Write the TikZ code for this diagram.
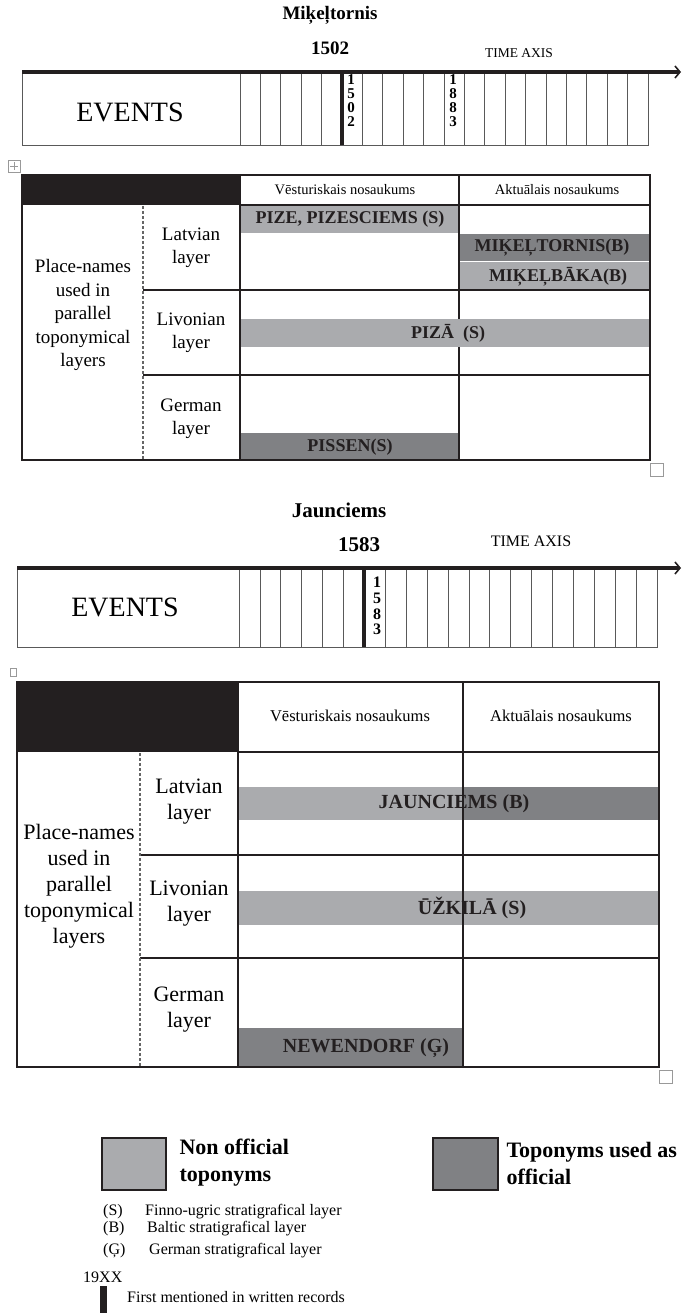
\documentclass[tikz,border=0pt]{standalone}
\usepackage{fontspec}
\setmainfont{Liberation Serif}
\usetikzlibrary{positioning,calc,arrows.meta}
\definecolor{lightbar}{RGB}{170,171,174}
\definecolor{darkbar}{RGB}{128,129,132}
\definecolor{ink}{RGB}{35,31,32}
\newcommand{\fsz}[2]{\fontsize{#1}{#2}\selectfont}

\begin{document}
\begin{tikzpicture}[x=1pt, y=-1pt,
  ttl/.style = {font=\fsz{19}{22}\bfseries},
  yr/.style = {font=\fsz{19}{22}\bfseries},
  axl/.style = {font=\fsz{13.5}{15}},
  ev/.style = {font=\fsz{28}{32}},
  dig/.style = {font=\fsz{15}{14}\bfseries, align=center, inner sep=0pt},
  cell/.style = {draw=black!65, line width=0.8pt},
  grid/.style = {draw=ink, line width=2pt},
  sep/.style = {draw=black!60, line width=1.2pt, dash pattern=on 3pt off 2pt},
  axis/.style = {draw=ink, line width=3.5pt, -{Straight Barb[length=5pt,width=12pt,line width=1.6pt]}},
  hd/.style = {font=\fsz{14.5}{17}},
  lay/.style = {font=\fsz{19}{23.5}, align=center},
  nm/.style = {font=\fsz{18}{21}\bfseries, text=ink},
  handle/.style = {draw=black!40, line width=0.6pt},
  leg/.style = {font=\fsz{22}{27}\bfseries, align=left, anchor=west},
  note/.style = {font=\fsz{16}{18}, anchor=west, inner sep=0pt}
  ]
\useasboundingbox (0,0) rectangle (682,1313);

% ---------- Mikeltornis
\node[ttl] (t1) at (330,15) {Miķeļtornis};
\node[yr] (y1) at (330,48) {1502};
\node[axl] (ax1) at (519,53) {TIME AXIS};
\draw[cell] (22,72) rectangle (648,145);
\foreach \i in {0,...,19} \draw[cell] ({240+20.4*\i},72) -- ++(0,73);
\draw[ink, line width=3.5pt] (342,72) -- (342,145);
\node[ev] (ev1) at (130,112) {EVENTS};
\node[dig] (d1) at (351,101) {1\\5\\0\\2};
\node[dig] (d2) at (453,101) {1\\8\\8\\3};
\coordinate (a1s) at (22,72);
\coordinate (a1e) at (681,72);
\draw[axis] (a1s) -- (a1e);

\draw[handle] (8,160) rectangle (20,172);
\draw[handle] (14,162) -- (14,170) (10,166) -- (18,166);

\fill[lightbar] (240,205) rectangle (459,233);
\fill[darkbar] (459,234) rectangle (650,261);
\fill[lightbar] (459,262) rectangle (650,290);
\fill[darkbar] (240,433) rectangle (459,460);
\fill[ink] (22,175) rectangle (240,205);
\draw[grid] (22,175) rectangle (650,460);
\draw[grid] (240,175) -- (240,460) (459,175) -- (459,460);
\draw[grid] (240,205) -- (650,205);
\draw[grid] (143,290) -- (650,290) (143,375) -- (650,375);
\draw[sep] (143,206) -- (143,459);
\fill[lightbar] (241,319) rectangle (649,347);
\draw[handle] (650,463) rectangle (663,476);

\node[hd] (h1) at (345,190) {Vēsturiskais nosaukums};
\node[hd] (h2) at (557,190) {Aktuālais nosaukums};
\node[lay] (p1) at (83,315) {Place-names\\used in\\parallel\\toponymical\\layers};
\node[lay] (la1) at (191,248) {Latvian\\layer};
\node[lay] (li1) at (191,333) {Livonian\\layer};
\node[lay] (ge1) at (191,419) {German\\layer};
\node[nm] (n1) at (350,219) {PIZE, PIZESCIEMS (S)};
\node[nm] (n2) at (552,248) {MIĶEĻTORNIS(B)};
\node[nm] (n3) at (558,277) {MIĶEĻBĀKA(B)};
\node[nm] (n4) at (448,333) {PIZĀ\ \ (S)};
\node[nm] (n5) at (350,447) {PISSEN(S)};

% ---------- Jaunciems
\node[ttl, font=\fsz{21}{24}\bfseries] (t2) at (339,510) {Jaunciems};
\node[yr, font=\fsz{21}{24}\bfseries] (y2) at (359,545) {1583};
\node[axl, font=\fsz{16}{18}] (ax2) at (531,541) {TIME AXIS};
\draw[cell] (17,569) rectangle (657,647);
\foreach \i in {0,...,19} \draw[cell] ({239+20.9*\i},569) -- ++(0,78);
\draw[ink, line width=3.5pt] (364,569) -- (364,647);
\node[ev] (ev2) at (125,607) {EVENTS};
\node[dig, font=\fsz{16}{15.7}\bfseries] (d3) at (377,606) {1\\5\\8\\3};
\coordinate (a2s) at (17,568);
\coordinate (a2e) at (681,568);
\draw[axis] (a2s) -- (a2e);

\draw[handle] (10,668) rectangle (16,676);

\fill[lightbar] (238,787) rectangle (463,820);
\fill[darkbar] (463,787) rectangle (659,820);
\fill[lightbar] (238,891) rectangle (659,925);
\fill[darkbar] (238,1028) rectangle (463,1067);
\fill[ink] (17,682) rectangle (238,752);
\draw[grid] (17,682) rectangle (659,1067);
\draw[grid] (238,682) -- (238,1067) (463,682) -- (463,1067);
\draw[grid] (238,752) -- (659,752);
\draw[grid] (140,855) -- (659,855) (140,958) -- (659,958);
\draw[sep] (140,753) -- (140,1066);
\draw[handle] (659,1070) rectangle (672,1083);

\node[hd, font=\fsz{16.5}{19}] (h3) at (350,716) {Vēsturiskais nosaukums};
\node[hd, font=\fsz{16.5}{19}] (h4) at (561,716) {Aktuālais nosaukums};
\node[lay, font=\fsz{22}{26}] (p2) at (79,886) {Place-names\\used in\\parallel\\toponymical\\layers};
\node[lay, font=\fsz{22}{26}] (la2) at (189,802) {Latvian\\layer};
\node[lay, font=\fsz{22}{26}] (li2) at (189,904) {Livonian\\layer};
\node[lay, font=\fsz{22}{26}] (ge2) at (189,1010) {German\\layer};
\node[nm, font=\fsz{20}{23}\bfseries] (n6) at (454,804) {JAUNCIEMS (B)};
\node[nm, font=\fsz{20}{23}\bfseries] (n7) at (472,908) {ŪŽKILĀ (S)};
\node[nm, font=\fsz{20}{23}\bfseries] (n8) at (366,1048) {NEWENDORF (Ģ)};

% ---------- legend
\draw[ink, line width=1.5pt, fill=lightbar] (102,1138) rectangle (166,1190);
\draw[ink, line width=1.5pt, fill=darkbar] (433,1138) rectangle (498,1190);
\node[leg] (k1) at (176,1163) {Non official\\toponyms};
\node[leg] (k2) at (503,1163) {Toponyms used as\\official};
\node[note] (s1) at (103,1212) {(S)};
\node[note] (s2) at (145,1212) {Finno-ugric stratigrafical layer};
\node[note] (b1) at (103,1229) {(B)};
\node[note] (b2) at (147,1229) {Baltic stratigrafical layer};
\node[note] (g1) at (103,1251) {(Ģ)};
\node[note] (g2) at (149,1251) {German stratigrafical layer};
\node[note] (xx) at (83,1277) {19XX};
\fill[ink] (100,1286) rectangle (107,1313);
\node[note] (fm) at (127,1297) {First mentioned in written records};

\end{tikzpicture}
\end{document}
